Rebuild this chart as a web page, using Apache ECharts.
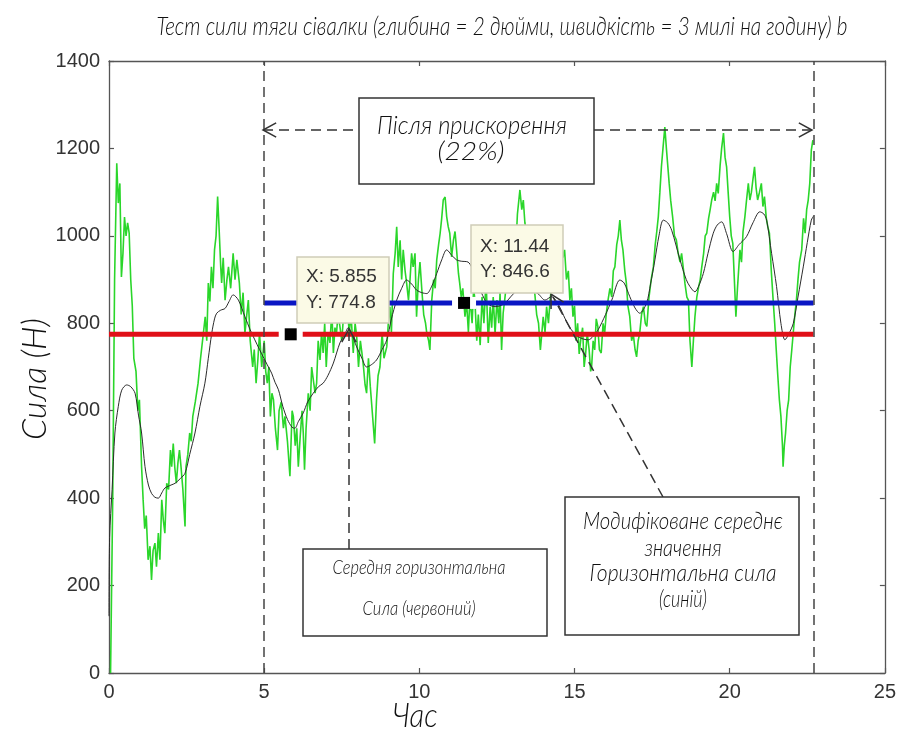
<!DOCTYPE html>
<html><head><meta charset="utf-8">
<script src="https://cdn.jsdelivr.net/npm/echarts@6/dist/echarts.min.js"></script>
<style>html,body{margin:0;padding:0;background:#fff}#c{width:899px;height:740px}</style>
</head><body><div id="c"></div>
<script>
// ---- data ----
const xTicks = [0, 5, 10, 15, 20, 25];
const yTicks = [0, 200, 400, 600, 800, 1000, 1200, 1400];

const greenT = [0.05,0.12,0.18,0.25,0.3,0.35,0.4,0.45,0.5,0.55,0.6,0.65,0.7,0.75,0.8,0.87,0.93,0.98,1.05,1.1,1.15,1.2,1.26,1.32,1.37,1.42,1.48,1.53,1.59,1.64,1.7,1.75,1.8,1.86,1.92,1.98,2.02,2.07,2.12,2.17,2.22,2.27,2.32,2.38,2.45,2.48,2.54,2.6,2.65,2.7,2.78,2.87,2.95,3.04,3.1,3.15,3.2,3.25,3.3,3.35,3.4,3.45,3.5,3.55,3.6,3.63,3.68,3.74,3.8,3.85,3.92,4.0,4.06,4.12,4.2,4.26,4.32,4.38,4.44,4.49,4.55,4.63,4.68,4.74,4.8,4.85,4.92,5.0,5.05,5.1,5.15,5.2,5.25,5.3,5.36,5.43,5.48,5.55,5.62,5.67,5.75,5.83,5.9,5.94,6.0,6.05,6.1,6.16,6.22,6.26,6.3,6.35,6.42,6.48,6.53,6.58,6.64,6.69,6.74,6.8,6.85,6.9,6.95,7.0,7.06,7.12,7.18,7.23,7.28,7.33,7.38,7.44,7.5,7.56,7.62,7.68,7.74,7.8,7.87,7.93,7.98,8.04,8.1,8.15,8.2,8.25,8.3,8.36,8.42,8.48,8.56,8.62,8.67,8.73,8.8,8.86,8.95,9.0,9.05,9.1,9.16,9.22,9.27,9.32,9.38,9.43,9.48,9.54,9.59,9.65,9.7,9.75,9.8,9.86,9.91,9.97,10.02,10.08,10.14,10.2,10.24,10.3,10.34,10.4,10.46,10.51,10.56,10.62,10.67,10.72,10.77,10.83,10.88,10.93,10.98,11.04,11.1,11.15,11.2,11.26,11.3,11.35,11.4,11.47,11.52,11.58,11.63,11.7,11.75,11.79,11.85,11.9,11.96,12.02,12.08,12.15,12.22,12.28,12.33,12.38,12.44,12.5,12.56,12.6,12.65,12.7,12.76,12.82,12.88,12.93,12.98,13.04,13.1,13.16,13.24,13.3,13.35,13.4,13.46,13.52,13.57,13.62,13.67,13.72,13.78,13.84,13.9,13.95,13.99,14.05,14.1,14.16,14.21,14.26,14.32,14.37,14.42,14.48,14.53,14.58,14.63,14.68,14.74,14.8,14.85,14.9,14.95,15.0,15.05,15.1,15.15,15.2,15.26,15.31,15.36,15.41,15.47,15.52,15.55,15.6,15.65,15.7,15.75,15.8,15.86,15.92,15.97,16.02,16.08,16.14,16.2,16.25,16.3,16.36,16.41,16.46,16.51,16.56,16.62,16.67,16.72,16.78,16.84,16.89,16.95,17.0,17.05,17.1,17.16,17.22,17.28,17.33,17.4,17.47,17.54,17.6,17.65,17.7,17.75,17.8,17.85,17.91,17.96,18.0,18.05,18.1,18.16,18.22,18.28,18.34,18.4,18.45,18.5,18.56,18.62,18.67,18.72,18.78,18.83,18.88,18.94,19.0,19.05,19.1,19.16,19.21,19.26,19.32,19.37,19.42,19.48,19.53,19.58,19.63,19.69,19.74,19.8,19.85,19.9,19.95,20.0,20.05,20.1,20.15,20.2,20.25,20.33,20.38,20.43,20.49,20.54,20.6,20.65,20.7,20.75,20.8,20.85,20.9,20.96,21.02,21.07,21.12,21.18,21.23,21.28,21.34,21.4,21.45,21.5,21.55,21.6,21.65,21.7,21.72,21.76,21.8,21.85,21.9,21.95,22.0,22.05,22.1,22.15,22.2,22.25,22.32,22.38,22.43,22.48,22.53,22.58,22.63,22.68];
const greenF = [0,400,900,1166,1075,1120,906,960,1043,1000,1030,1006,900,840,720,690,600,625,472,396,330,360,259,290,213,280,297,243,320,259,396,350,320,434,420,510,472,525,470,434,480,510,472,420,335,472,500,549,530,587,620,663,720,777,815,760,892,850,929,880,968,1000,1090,1013,929,892,950,853,900,929,880,960,900,945,892,820,870,777,820,853,760,700,740,663,720,777,700,760,690,663,700,587,640,625,560,510,600,620,560,587,530,450,600,587,520,560,472,540,600,549,465,560,640,600,700,700,640,663,760,716,780,732,800,700,780,755,830,732,790,777,820,793,760,820,800,840,777,820,732,800,770,700,760,732,700,660,640,720,655,600,525,625,680,700,777,720,746,800,838,780,914,960,1021,929,990,900,968,920,892,853,900,960,929,960,815,900,940,876,820,800,777,760,739,853,900,880,945,980,1006,1040,1082,1089,1044,1021,1006,952,991,1010,968,914,892,860,880,815,850,780,860,800,880,853,760,820,750,860,800,900,755,838,790,860,777,853,800,870,739,823,860,900,950,900,980,1000,960,1050,1105,1060,1082,1030,1006,940,892,950,929,868,820,800,739,780,815,780,838,800,850,884,920,945,900,960,930,991,950,968,900,920,853,880,815,840,760,800,730,762,790,700,732,777,740,690,700,760,739,810,793,740,732,800,777,820,853,880,860,920,929,980,1000,1036,990,968,920,892,840,815,760,777,740,723,760,777,820,838,800,793,860,900,929,980,1010,1044,1100,1158,1200,1249,1200,1196,1120,1080,1044,1000,991,960,940,960,929,890,860,853,760,700,760,815,860,884,900,929,960,1000,1006,1040,1060,1082,1100,1080,1120,1097,1160,1200,1235,1180,1158,1100,1044,1000,983,900,815,880,968,940,1010,1044,1080,1120,1082,1100,1130,1158,1110,1082,1100,1120,1067,1090,1040,1020,1006,920,853,800,739,680,625,587,520,472,520,549,600,625,700,739,780,820,853,900,940,968,1040,1006,1060,1082,1120,1196,1219];

const blackT = [0,0.02,0.1,0.19,0.3,0.41,0.57,0.7,0.84,0.95,1.05,1.16,1.27,1.37,1.48,1.59,1.7,1.8,2.0,2.13,2.3,2.45,2.6,2.77,2.93,3.09,3.2,3.31,3.4,3.47,3.6,3.74,3.87,4.0,4.17,4.38,4.55,4.7,4.85,4.97,5.1,5.24,5.35,5.46,5.6,5.75,5.9,5.99,6.1,6.26,6.4,6.58,6.75,6.9,7.05,7.23,7.44,7.6,7.71,7.8,7.98,8.15,8.3,8.45,8.62,8.8,8.95,9.1,9.27,9.43,9.59,9.75,9.91,10.08,10.24,10.4,10.56,10.72,10.88,11.05,11.2,11.35,11.57,11.8,12.0,12.2,12.44,12.6,12.76,13.0,13.3,13.55,13.82,14.05,14.26,14.5,14.7,14.9,15.15,15.44,15.6,15.76,16.0,16.2,16.46,16.6,16.78,16.95,17.1,17.32,17.45,17.59,17.72,17.86,18.0,18.13,18.4,18.6,18.72,18.88,19.0,19.15,19.3,19.47,19.6,19.74,19.9,20.11,20.3,20.54,20.75,20.97,21.1,21.19,21.35,21.51,21.65,21.78,21.9,22.05,22.2,22.37,22.5,22.63,22.7];
const blackF = [130,310,420,549,610,647,659,655,640,590,549,472,430,411,402,400,412,423,430,434,445,457,500,549,610,663,720,777,810,823,830,834,850,865,853,815,785,762,740,723,705,686,665,648,610,580,562,560,575,595,620,640,655,663,680,709,755,775,790,780,746,720,700,705,716,740,762,810,853,880,899,890,876,870,868,885,914,945,968,955,945,942,940,910,870,845,838,840,846,865,884,878,868,853,861,840,810,785,768,762,770,785,820,853,899,892,861,835,823,846,890,945,1000,1036,1030,1013,945,900,884,872,885,914,960,1006,1025,1032,1005,964,980,998,1030,1055,1050,1036,960,884,800,762,775,800,860,929,985,1036,1045];

const redT = [0, 22.7];
const redF = [774.8, 774.8];
const blueT = [5, 22.7];
const blueF = [846.6, 846.6];
const tipT = [5.855, 11.44];
const tipF = [774.8, 846.6];
const boundT = [5, 22.7];

const titleText = 'Тест сили тяги сівалки (глибина = 2 дюйми, швидкість = 3 милі на годину) b';
const yName = 'Сила (Н)';
const xName = 'Час';

// ---- helpers ----
const zip = (a, b) => a.map((v, i) => [v, b[i]]);
const mctx = document.createElement('canvas').getContext('2d');
const AFAM = 'Lato';
function ann(str, cx, cy, size, width, rot) {
  mctx.font = 'italic 300 ' + size + 'px ' + AFAM;
  const w = mctx.measureText(str).width || 1;
  return {
    type: 'text', x: cx, y: cy, rotation: rot || 0, scaleX: width / w, z: 120,
    style: { text: str, x: 0, y: 0, align: 'center', verticalAlign: 'middle',
      fontFamily: AFAM, fontStyle: 'italic', fontWeight: 300, fontSize: size, fill: '#111' }
  };
}
function box(x1, y1, x2, y2) {
  return { type: 'rect', shape: { x: x1, y: y1, width: x2 - x1, height: y2 - y1 }, z: 110,
    style: { fill: '#fff', stroke: '#333', lineWidth: 1.5 } };
}
function tipBox(x1, y1, x2, y2, l1, l2, ty1, ty2) {
  return [
    { type: 'rect', shape: { x: x1, y: y1, width: x2 - x1, height: y2 - y1 }, z: 110,
      style: { fill: '#fbfae6', stroke: '#cfcdb8', lineWidth: 1.5 } },
    { type: 'text', x: x1 + 9, y: ty1, z: 120, style: { text: l1, verticalAlign: 'middle', fontFamily: 'Liberation Sans', fontSize: 19, fill: '#333' } },
    { type: 'text', x: x1 + 9, y: ty2, z: 120, style: { text: l2, verticalAlign: 'middle', fontFamily: 'Liberation Sans', fontSize: 19, fill: '#333' } }
  ];
}
function dline(x1, y1, x2, y2) {
  return { type: 'line', shape: { x1, y1, x2, y2 }, z: 105,
    style: { stroke: '#333', lineWidth: 1.5, lineDash: [10, 6] } };
}
function head(tx, ty, fx, fy) {
  const dx = fx - tx, dy = fy - ty, L = Math.hypot(dx, dy), ux = dx / L, uy = dy / L;
  const a = 0.5, len = 15;
  const p1 = [tx + len * (ux * Math.cos(a) - uy * Math.sin(a)), ty + len * (ux * Math.sin(a) + uy * Math.cos(a))];
  const p2 = [tx + len * (ux * Math.cos(-a) - uy * Math.sin(-a)), ty + len * (ux * Math.sin(-a) + uy * Math.cos(-a))];
  return { type: 'polyline', shape: { points: [p1, [tx, ty], p2] }, z: 106,
    style: { stroke: '#333', lineWidth: 1.5, fill: null } };
}

const axisCommon = {
  type: 'value',
  axisLine: { show: true, onZero: false, lineStyle: { color: '#555', width: 1.3 } },
  axisTick: { show: true, inside: true, length: 5, lineStyle: { color: '#555', width: 1.2 } },
  splitLine: { show: false }
};
const lblStyle = { fontFamily: 'Liberation Sans', fontSize: 20, color: '#333', formatter: v => String(v) };

const chart = echarts.init(document.getElementById('c'), null, { renderer: 'canvas' });
chart.setOption({
  animation: false,
  backgroundColor: '#fff',
  grid: { left: 109, top: 61, right: 14, bottom: 67, show: false },
  xAxis: [
    Object.assign({}, axisCommon, { min: xTicks[0], max: xTicks[xTicks.length - 1], interval: xTicks[1] - xTicks[0],
      axisLabel: Object.assign({ margin: 9 }, lblStyle) }),
    Object.assign({}, axisCommon, { position: 'top', min: xTicks[0], max: xTicks[xTicks.length - 1], interval: xTicks[1] - xTicks[0],
      axisLabel: { show: false } })
  ],
  yAxis: [
    Object.assign({}, axisCommon, { min: yTicks[0], max: yTicks[yTicks.length - 1], interval: yTicks[1] - yTicks[0],
      axisLabel: Object.assign({ margin: 9 }, lblStyle) }),
    Object.assign({}, axisCommon, { position: 'right', min: yTicks[0], max: yTicks[yTicks.length - 1], interval: yTicks[1] - yTicks[0],
      axisLabel: { show: false } })
  ],
  series: [
    { type: 'line', data: zip(greenT, greenF), showSymbol: false, z: 2,
      lineStyle: { color: '#2ad62a', width: 1.6 },
      markLine: { silent: true, symbol: ['none', 'none'], label: { show: false },
        lineStyle: { color: '#444', width: 1.5, type: [10, 6] },
        data: boundT.map(v => ({ xAxis: v })) } },
    { type: 'line', data: zip(blackT, blackF), showSymbol: false, z: 3, smooth: 0.3,
      lineStyle: { color: '#2b2b2b', width: 1 } },
    { type: 'line', data: zip(redT, redF), showSymbol: false, z: 4,
      lineStyle: { color: '#e01018', width: 5 } },
    { type: 'line', data: zip(blueT, blueF), showSymbol: false, z: 4,
      lineStyle: { color: '#0a16c4', width: 5 } },
    { type: 'scatter', data: zip(tipT, tipF), symbol: 'rect', symbolSize: [24, 12], z: 5,
      itemStyle: { color: '#fff', opacity: 1 } },
    { type: 'scatter', data: zip(tipT, tipF), symbol: 'rect', symbolSize: 12, z: 6,
      itemStyle: { color: '#000', opacity: 1 } }
  ],
  graphic: [
    ann(titleText, 502, 27, 25, 691),
    ann(yName, 35, 379, 34, 122, Math.PI / 2),
    ann(xName, 415, 716, 34, 45),
    // top box with horizontal arrows
    dline(263, 130, 359, 130), head(263, 130, 300, 130),
    dline(594, 130, 812, 130), head(812, 130, 700, 130),
    box(359, 98, 594, 184),
    ann('Після прискорення', 472, 126, 26, 190),
    ann('(22%)', 471, 152, 26, 67),
    // lower-left box with vertical arrow
    dline(349, 549, 349, 332), head(349, 329, 349, 400),
    box(303, 549, 547, 636),
    ann('Середня горизонтальна', 419, 568, 19, 173),
    ann('Сила (червоний)', 419, 609, 19, 113),
    // lower-right box with diagonal arrow
    dline(663, 497, 553, 297), head(551, 294, 663, 497),
    box(565, 497, 799, 635),
    ann('Модифіковане середнє', 683, 521, 24, 200),
    ann('значення', 683, 548, 24, 77),
    ann('Горизонтальна сила', 683, 573, 24, 187),
    ann('(синій)', 683, 599, 24, 48)
  ].concat(
    tipBox(297, 257, 389, 323, 'X: 5.855', 'Y: 774.8', 277, 303),
    tipBox(471, 225, 563, 293, 'X: 11.44', 'Y: 846.6', 247, 272)
  )
});
</script>
</body></html>
